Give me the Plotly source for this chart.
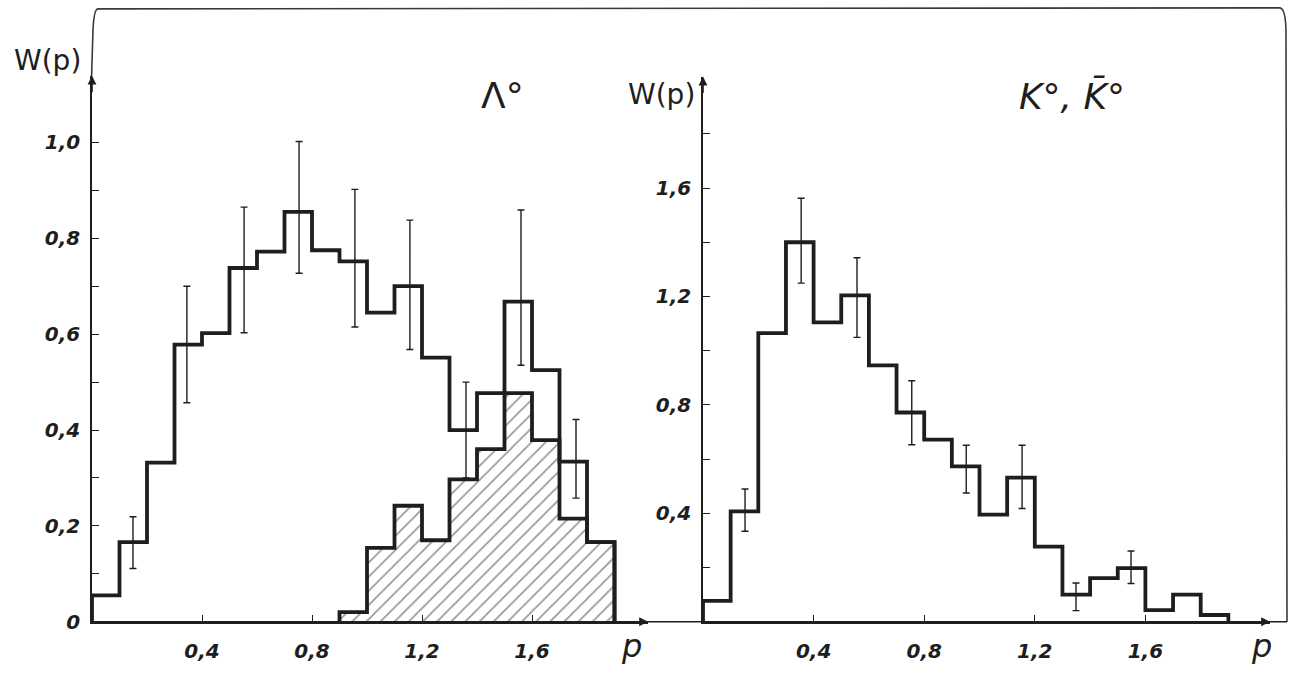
import plotly.graph_objects as go

# ---------------- data ----------------
# Left panel (Lambda0): bin edges in p, all events and hatched subset
lam_edges = [0.0, 0.1, 0.2, 0.3, 0.4, 0.5, 0.6, 0.7, 0.8, 0.9, 1.0,
             1.1, 1.2, 1.3, 1.4, 1.5, 1.6, 1.7, 1.8, 1.9]
lam_all = [0.055, 0.166, 0.332, 0.578, 0.602, 0.738, 0.772, 0.855, 0.775,
           0.752, 0.645, 0.700, 0.551, 0.400, 0.477, 0.668, 0.525, 0.334, 0.166]
lam_hatch_edges = [0.9, 1.0, 1.1, 1.2, 1.3, 1.4, 1.5, 1.6, 1.7, 1.8, 1.9]
lam_hatch = [0.020, 0.154, 0.242, 0.170, 0.297, 0.360, 0.477, 0.379, 0.215, 0.166]
lam_err_x = [0.149, 0.345, 0.553, 0.753, 0.956, 1.156, 1.36, 1.56, 1.76]
lam_err_lo = [0.111, 0.457, 0.603, 0.727, 0.615, 0.568, 0.300, 0.535, 0.258]
lam_err_hi = [0.219, 0.700, 0.865, 1.002, 0.902, 0.838, 0.500, 0.859, 0.422]

# Right panel (K0, anti-K0)
k_edges = [0.0, 0.1, 0.2, 0.3, 0.4, 0.5, 0.6, 0.7, 0.8, 0.9, 1.0,
           1.1, 1.2, 1.3, 1.4, 1.5, 1.6, 1.7, 1.8, 1.9]
k_vals = [0.077, 0.407, 1.065, 1.400, 1.104, 1.204, 0.946, 0.772, 0.672,
          0.573, 0.395, 0.532, 0.277, 0.100, 0.161, 0.198, 0.043, 0.100, 0.025]
k_err_x = [0.152, 0.355, 0.557, 0.755, 0.952, 1.154, 1.349, 1.548]
k_err_lo = [0.334, 1.249, 1.049, 0.653, 0.475, 0.418, 0.041, 0.141]
k_err_hi = [0.490, 1.562, 1.343, 0.889, 0.651, 0.651, 0.143, 0.261]

# tick labels
lam_y_ticks = [0, 0.2, 0.4, 0.6, 0.8, 1.0]
lam_y_text = ["0", "0,2", "0,4", "0,6", "0,8", "1,0"]
lam_y_minor = [0.1, 0.3, 0.5, 0.7, 0.9]
k_y_ticks = [0.4, 0.8, 1.2, 1.6]
k_y_text = ["0,4", "0,8", "1,2", "1,6"]
k_y_minor = [0.2, 0.6, 1.0, 1.4, 1.8]
x_ticks = [0.4, 0.8, 1.2, 1.6]
x_text = ["0,4", "0,8", "1,2", "1,6"]

# ---------------- layout helpers ----------------
W, H = 1290, 676
INK = "#1e1e1e"


def px(x):
    return x / W


def py(y):
    return 1 - y / H


def step(edges, vals):
    xs = [edges[0]] + edges[:-1] + [edges[-1]]
    ys = [0] + list(vals) + [0]
    return xs, ys


fig = go.Figure()

# hatched subset (left)
hx, hy = step(lam_hatch_edges, lam_hatch)
fig.add_trace(go.Scatter(
    x=hx, y=hy, mode="lines", line=dict(shape="hv", color=INK, width=3.8),
    fill="tozeroy", fillcolor="rgba(255,255,255,0)",
    fillpattern=dict(shape="/", size=10, solidity=0.16, fgcolor="#2a2a2a",
                     bgcolor="white"),
    xaxis="x", yaxis="y", hoverinfo="skip", showlegend=False))

# all Lambda
ax_, ay_ = step(lam_edges, lam_all)
fig.add_trace(go.Scatter(
    x=ax_, y=ay_, mode="lines", line=dict(shape="hv", color=INK, width=3.8),
    xaxis="x", yaxis="y", hoverinfo="skip", showlegend=False))

# Lambda error bars
fig.add_trace(go.Scatter(
    x=lam_err_x, y=lam_err_lo, mode="markers",
    marker=dict(size=2, color="rgba(0,0,0,0)"),
    error_y=dict(type="data", symmetric=False,
                 array=[h - l for h, l in zip(lam_err_hi, lam_err_lo)],
                 arrayminus=[0] * len(lam_err_lo),
                 color=INK, thickness=1.4, width=3.5),
    xaxis="x", yaxis="y", hoverinfo="skip", showlegend=False))

# K histogram
kx, ky = step(k_edges, k_vals)
fig.add_trace(go.Scatter(
    x=kx, y=ky, mode="lines", line=dict(shape="hv", color=INK, width=3.8),
    xaxis="x2", yaxis="y2", hoverinfo="skip", showlegend=False))

fig.add_trace(go.Scatter(
    x=k_err_x, y=k_err_lo, mode="markers",
    marker=dict(size=2, color="rgba(0,0,0,0)"),
    error_y=dict(type="data", symmetric=False,
                 array=[h - l for h, l in zip(k_err_hi, k_err_lo)],
                 arrayminus=[0] * len(k_err_lo),
                 color=INK, thickness=1.4, width=3.5),
    xaxis="x2", yaxis="y2", hoverinfo="skip", showlegend=False))

tickfont = dict(family="DejaVu Sans", size=20, color=INK,
                weight="bold", style="italic")

base = 633
lam_xr = (648 - 92) / 275.0
lam_yr = (base - 77) / 488.0
k_xr = (1270 - 703) / 276.5
k_yr = (base - 78) / 276.0

common = dict(showgrid=False, zeroline=False, showline=True, linecolor=INK,
              linewidth=1.6, ticks="inside", ticklen=7, tickwidth=1.3,
              tickcolor=INK, tickfont=tickfont, fixedrange=True)

fig.update_layout(
    width=W, height=H, margin=dict(l=0, r=0, t=0, b=0),
    paper_bgcolor="white", plot_bgcolor="rgba(0,0,0,0)",
    xaxis=dict(domain=[px(92), px(648)], range=[0, lam_xr], anchor="y",
               tickvals=x_ticks, ticktext=x_text, ticklabelstandoff=10,
               **common),
    yaxis=dict(domain=[py(base), py(77)], range=[0, lam_yr], anchor="x",
               tickvals=lam_y_ticks, ticktext=lam_y_text,
               ticklabelstandoff=6,
               minor=dict(tickvals=lam_y_minor, ticks="inside", ticklen=7,
                          tickwidth=1.2, tickcolor=INK),
               **common),
    xaxis2=dict(domain=[px(703), px(1270)], range=[0, k_xr], anchor="y2",
                tickvals=x_ticks, ticktext=x_text, ticklabelstandoff=10,
                **common),
    yaxis2=dict(domain=[py(base), py(78)], range=[0, k_yr], anchor="x2",
                tickvals=k_y_ticks, ticktext=k_y_text, ticklabelstandoff=6,
                minor=dict(tickvals=k_y_minor, ticks="inside", ticklen=7,
                           tickwidth=1.2, tickcolor=INK),
                **common),
)

# frame and baseline
fig.add_shape(type="path", xref="paper", yref="paper",
              path=(f"M {px(91.5)},{py(80)} L {px(93)},{py(30)} "
                    f"Q {px(94)},{py(9)} {px(98)},{py(9)} "
                    f"L {px(1280)},{py(8)} Q {px(1286)},{py(9)} {px(1286)},{py(35)} "
                    f"L {px(1287)},{py(base)}"),
              line=dict(color="#3a3a30", width=1.6))
fig.add_shape(type="line", xref="paper", yref="paper",
              x0=px(92), x1=px(1287), y0=py(base), y1=py(base),
              line=dict(color=INK, width=1.6))

# axis arrowheads
arrow = dict(showarrow=True, arrowhead=2, arrowsize=1.1, arrowwidth=1.6,
             arrowcolor=INK, text="")
fig.add_annotation(x=0, y=lam_yr, xref="x", yref="y", ax=0, ay=18, **arrow)
fig.add_annotation(x=lam_xr, y=0, xref="x", yref="y", ax=-18, ay=0, **arrow)
fig.add_annotation(x=0, y=k_yr, xref="x2", yref="y2", ax=0, ay=18, **arrow)
fig.add_annotation(x=k_xr, y=0, xref="x2", yref="y2", ax=-18, ay=0, **arrow)

# text labels
def label(text, x, y, size, style="normal", weight="normal"):
    fig.add_annotation(x=px(x), y=py(y), xref="paper", yref="paper",
                       text=text, showarrow=False, xanchor="center",
                       yanchor="middle",
                       font=dict(family="DejaVu Sans", size=size, color=INK,
                                 style=style, weight=weight))


label("W(p)", 47, 62, 28)
label("W(p)", 661, 96, 28)
label("Λ°", 502, 97, 36)
label("K°, K\u0304°", 1072, 98, 36, style="italic")
label("p", 631, 658, 32, style="italic")
label("p", 1261, 658, 32, style="italic")

fig.write_html("out.html")
